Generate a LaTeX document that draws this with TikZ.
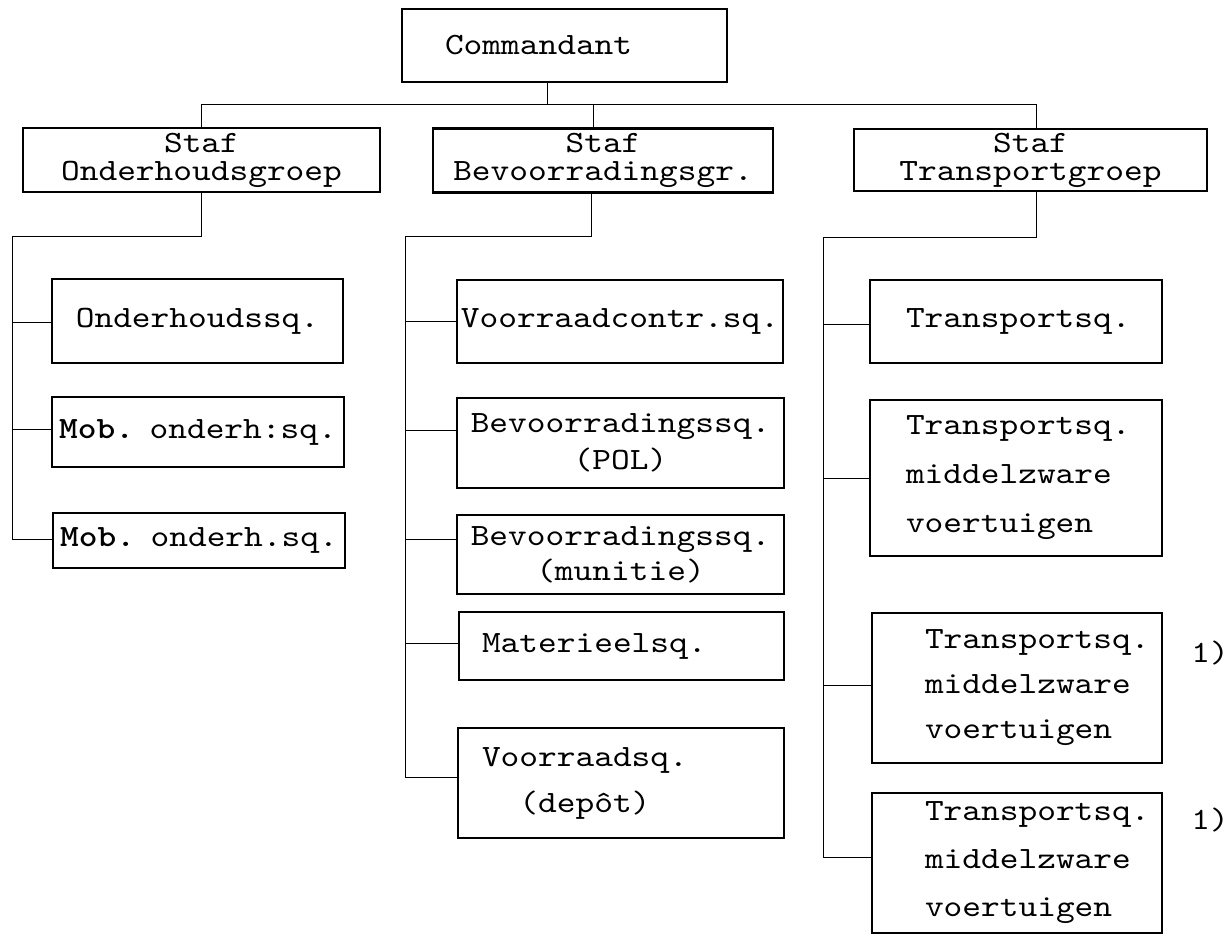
\documentclass[tikz,border=0pt]{standalone}
\usepackage{fontspec}
\usepackage{tikz}
\usetikzlibrary{
    positioning,
    calc
}
\newfontfamily\typefont{lmmono10-regular.otf}[FakeStretch=1.15, BoldFont=lmmonolt10-bold.otf]
\newcommand{\typer}{\fontsize{15.5}{17.5}\selectfont\typefont}
\tikzset{
  unit/.style = {
      draw,
      rectangle,
      line width=1.3pt,
      inner ysep=0pt,
      inner xsep=0pt,
      font=\typer,
      align=center
  },
  staff/.style = {
      unit,
      minimum height=32pt
  },
  lefty/.style = {
      unit,
      align=left
  },
  link/.style = {
      line width=0.5pt
  },
  note/.style = {
      font=\typer,
      inner sep=0pt
  }
}

\begin{document}
\begin{tikzpicture}[x=0.5pt, y=-0.5pt]
    \useasboundingbox (0,0) rectangle (1232,936);
    % Nodes
    \node[lefty, text width=119.5pt, inner xsep=21.5pt, minimum height=36.5pt] (cmd) at (564.5,45.5) {Commandant};
    \node[staff, text width=178.5pt] (so) at (201.5,160) {Staf\\[-3.5pt]Onderhoudsgroep};
    \node[staff, text width=170pt] (sb) at (603,160.5) {Staf\\[-3.5pt]Bevoorradingsgr.};
    \node[staff, text width=176.5pt, minimum height=31pt] (st) at (1030.5,160) {Staf\\[-3.5pt]Transportgroep};
    % onderhoud
    \node[unit, text width=145.5pt, minimum height=42pt] (o1) at (197.5,321) {Onderhoudssq.};
    \node[unit, text width=146pt, minimum height=35pt] (o2) at (198,432) {{\bfseries Mob.} onderh:sq.};
    \node[unit, text width=146pt, minimum height=27.5pt] (o3) at (199,540.5) {{\bfseries Mob.} onderh.sq.};
    % bevoorrading
    \node[unit, text width=163pt, minimum height=41.5pt] (b1) at (620,321.5) {Voorraadcontr.sq.};
    \node[unit, text width=163.5pt, minimum height=45pt] (b2) at (620.5,443) {Bevoorradingssq.\\[1pt](POL)};
    \node[unit, text width=163.5pt, minimum height=39.5pt] (b3) at (620.5,554.5) {Bevoorradingssq.\\(munitie)};
    \node[lefty, text width=139.5pt, inner xsep=11.5pt, minimum height=34pt] (b4) at (621.5,646) {Materieelsq.};
    \node[lefty, text width=139pt, inner xsep=12pt, minimum height=55pt] (b5) at (621,783) {Voorraadsq.\\[5.5pt]\phantom{xx}(depôt)};
    % transport
    \node[lefty, text width=110pt, inner xsep=18pt, minimum height=41.5pt] (t1) at (1016,321.5) {Transportsq.};
    \node[lefty, text width=110pt, inner xsep=18pt, minimum height=78pt] (t2) at (1016,478) {Transportsq.\\[7pt]middelzware\\[7pt]voertuigen};
    \node[lefty, text width=92pt, inner xsep=26.5pt, minimum height=75pt] (t3) at (1017,688) {Transportsq.\\[5pt]middelzware\\[5pt]voertuigen};
    \node[lefty, text width=92pt, inner xsep=26.5pt, minimum height=70pt] (t4) at (1017,863) {Transportsq.\\[6.5pt]middelzware\\[6.5pt]voertuigen};
    \node[note] (n1) at (1210,653) {1)};
    \node[note] (n2) at (1210,820) {1)};
    % Edges
    \coordinate (cmdbot) at ([xshift=-8.75pt]cmd.south);
    \coordinate (sttop) at ([xshift=2.75pt]st.north);
    \coordinate (sbtop) at ([xshift=-5pt]sb.north);
    \path (cmdbot) ++(0,21) coordinate (bus);
    \coordinate (lt) at (12,237);
    \coordinate (mt) at (405,237);
    \coordinate (rt) at (823,238);
    \draw[link] (cmdbot) -- (bus);
    \draw[link] (so.north) |- (sttop |- bus) -- (sttop);
    \draw[link] (sbtop) -- (sbtop |- bus);
    \draw[link] (so.south) |- (lt);
    \draw[link] ([xshift=-6pt]sb.south) |- (mt);
    \draw[link] ([xshift=2.75pt]st.south) |- (rt);
    \foreach \n/\s in {o1/-1, o2/1.5, o3/0.75}
        \draw[link] ([yshift=\s pt]\n.west) -| (lt);
    \foreach \n/\s in {b1/0, b2/6.5, b3/7.75, b4/1.5, b5/3}
        \draw[link] ([yshift=\s pt]\n.west) -| (mt);
    \foreach \n/\s in {t1/-1.75, t2/0, t3/1.5, t4/3}
        \draw[link] ([yshift=\s pt]\n.west) -| (rt);
\end{tikzpicture}
\end{document}
